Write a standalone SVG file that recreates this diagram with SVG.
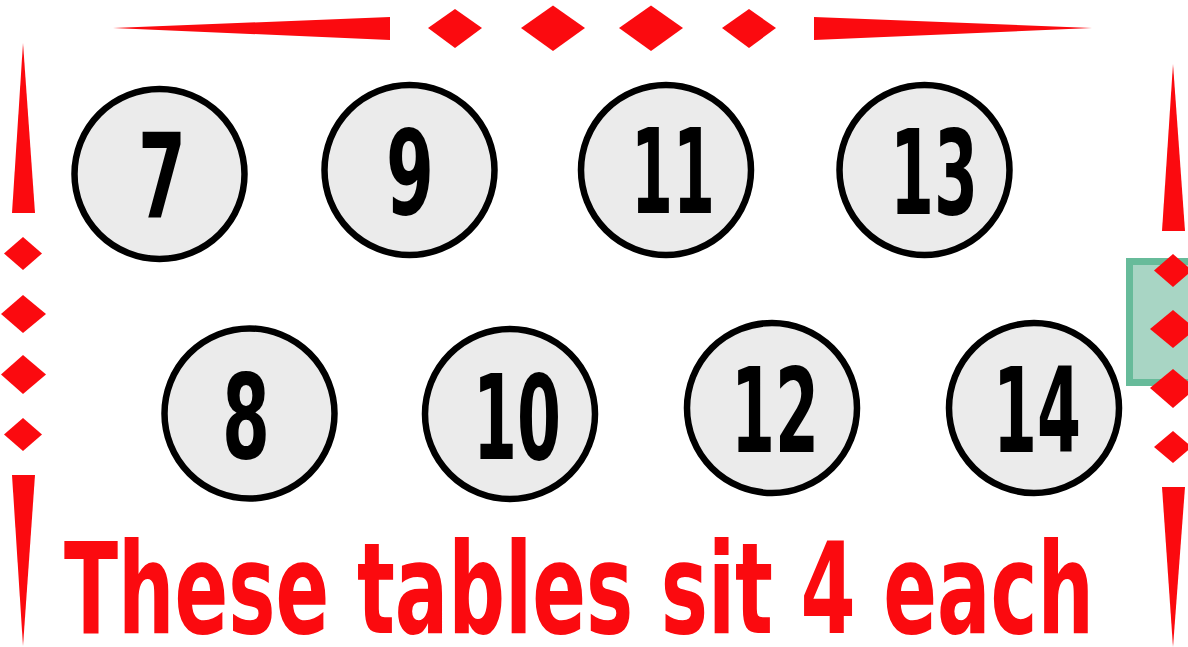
<svg xmlns="http://www.w3.org/2000/svg" width="1188" height="647" viewBox="0 0 1188 647">
<style>
.red{fill:#fb0a0f}
.tbl circle{fill:#ebebeb;stroke:#000;stroke-width:6.5}
.tbl text{font-family:"Liberation Sans Narrow","DejaVu Sans Condensed","Liberation Sans",sans-serif;font-weight:bold;font-size:118px;fill:#000;text-anchor:middle}
.cap{font-family:"Liberation Sans Narrow","DejaVu Sans Condensed","Liberation Sans",sans-serif;font-weight:bold;font-size:126px;fill:#fb0a0f}
</style>
<rect width="1188" height="647" fill="#fff"/>
<g id="border">
<polygon class="red" points="113,28 390,17 390,40"/>
<polygon class="red" points="428,28 455,9 482,28 455,48"/>
<polygon class="red" points="521,28 553,5.5 585,28 553,51"/>
<polygon class="red" points="619,28 651,5.5 683,28 651,51"/>
<polygon class="red" points="722,28 749,9 776,28 749,48"/>
<polygon class="red" points="1092,28 814,17 814,40"/>
<polygon class="red" points="23,43 12,213 35,213"/>
<polygon class="red" points="4,253.5 23,237 42,253.5 23,270"/>
<polygon class="red" points="1,314 23,295 46,314 23,333"/>
<polygon class="red" points="1,374.5 23,355 46,374.5 23,394"/>
<polygon class="red" points="4,434.5 23,418 42,434.5 23,451"/>
<polygon class="red" points="23,646 12,475 35,475"/>
</g>
<g id="side-panel">
<rect x="1129.5" y="261.5" width="70" height="121" fill="#a8d5c4" stroke="#67bb9a" stroke-width="7"/>
</g>
<g id="border-right">
<polygon class="red" points="1173,64 1162,231 1185,231"/>
<polygon class="red" points="1154,270.5 1173,254 1192,270.5 1173,287"/>
<polygon class="red" points="1150,329 1173,310 1196,329 1173,348"/>
<polygon class="red" points="1150,388 1173,369 1196,388 1173,408"/>
<polygon class="red" points="1154,447 1173,431 1192,447 1173,463"/>
<polygon class="red" points="1173,647 1162,487 1185,487"/>
</g>
<g id="table-7" class="tbl"><circle cx="159.5" cy="174" r="85"/><text x="162" y="218" textLength="48" lengthAdjust="spacingAndGlyphs">7</text></g>
<g id="table-9" class="tbl"><circle cx="409.5" cy="170" r="85"/><text x="410" y="214" textLength="48" lengthAdjust="spacingAndGlyphs">9</text></g>
<g id="table-11" class="tbl"><circle cx="666" cy="170" r="85"/><text x="673" y="213" textLength="84" lengthAdjust="spacingAndGlyphs">11</text></g>
<g id="table-13" class="tbl"><circle cx="924.5" cy="170" r="85"/><text x="934" y="214" textLength="88" lengthAdjust="spacingAndGlyphs">13</text></g>
<g id="table-8" class="tbl"><circle cx="249.5" cy="413.5" r="85"/><text x="246" y="458" textLength="48" lengthAdjust="spacingAndGlyphs">8</text></g>
<g id="table-10" class="tbl"><circle cx="510" cy="414" r="85"/><text x="517" y="459" textLength="88" lengthAdjust="spacingAndGlyphs">10</text></g>
<g id="table-12" class="tbl"><circle cx="772" cy="408" r="85"/><text x="775" y="452" textLength="88" lengthAdjust="spacingAndGlyphs">12</text></g>
<g id="table-14" class="tbl"><circle cx="1034" cy="408" r="85"/><text x="1037" y="452" textLength="88" lengthAdjust="spacingAndGlyphs">14</text></g>
<g id="caption">
<text class="cap" x="64" y="633" textLength="1030" lengthAdjust="spacingAndGlyphs">These tables sit 4 each</text>
</g>
</svg>
